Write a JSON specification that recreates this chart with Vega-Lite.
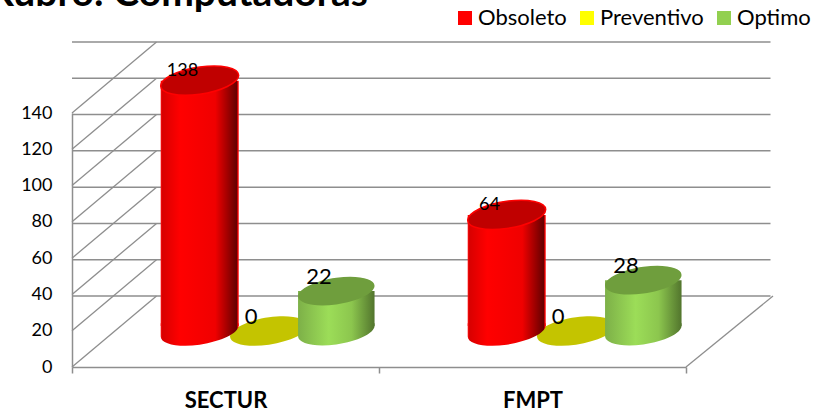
{"$schema":"https://vega.github.io/schema/vega-lite/v6.json","width":614,"height":254,"autosize":{"type":"none"},"padding":{"left":72,"top":113,"right":139,"bottom":44},"background":"white","view":{"stroke":null},"title":{"text":"Rubro:  Computadoras","anchor":"start","frame":"group","baseline":"alphabetic","offset":0,"dx":-83,"dy":38,"font":"Lato","fontSize":39,"fontWeight":"bold","color":"#000000"},"config":{"font":"Lato","axisY":{"labelOverlap":false,"labelBound":false,"labelSeparation":0}},"data":{"values":[{"cat":"SECTUR","series":"Obsoleto","value":138},{"cat":"SECTUR","series":"Preventivo","value":0},{"cat":"SECTUR","series":"Optimo","value":22},{"cat":"FMPT","series":"Obsoleto","value":64},{"cat":"FMPT","series":"Preventivo","value":0},{"cat":"FMPT","series":"Optimo","value":28}]},"layer":[{"data":{"values":[{"tick":0},{"tick":20},{"tick":40},{"tick":60},{"tick":80},{"tick":100},{"tick":120},{"tick":140}]},"layer":[{"mark":{"type":"rule","color":"#8E8E8E","strokeWidth":1.5,"xOffset":84.5,"x2Offset":87,"yOffset":-71},"encoding":{"y":{"field":"tick","type":"quantitative","scale":{"domain":[0,140],"nice":false},"axis":{"values":[0,20,40,60,80,100,120,140],"tickCount":8,"title":null,"grid":false,"domain":true,"domainColor":"#8E8E8E","domainWidth":1.5,"ticks":false,"labelOverlap":false,"labelPadding":20,"labelFont":"Lato","labelFontSize":18,"labelColor":"#000000"}}}},{"mark":{"type":"rule","color":"#8E8E8E","strokeWidth":1.3,"x2Offset":-69,"y2Offset":-71},"encoding":{"x":{"datum":"SECTUR","type":"nominal","bandPosition":0},"x2":{"datum":"SECTUR"},"y":{"field":"tick","type":"quantitative"},"y2":{"field":"tick"}}},{"transform":[{"filter":"datum.tick==0"}],"mark":{"type":"rule","color":"#8E8E8E","strokeWidth":1.3,"xOffset":614,"x2Offset":547.5,"y2Offset":-71},"encoding":{"x":{"datum":"SECTUR","type":"nominal","bandPosition":0},"x2":{"datum":"SECTUR"},"y":{"field":"tick","type":"quantitative"},"y2":{"field":"tick"}}}]},{"encoding":{"x":{"field":"cat","type":"nominal","sort":null,"scale":{"domain":["SECTUR","FMPT"],"paddingInner":0,"paddingOuter":0},"axis":{"title":null,"tickBand":"extent","tickSize":6,"tickColor":"#8E8E8E","tickWidth":1.5,"domainColor":"#8E8E8E","domainWidth":1.5,"labelAngle":0,"labelAlign":"center","labelPadding":27,"labelFont":"Lato","labelFontSize":22,"labelFontWeight":"bold","labelColor":"#000000"}},"y":{"field":"value","type":"quantitative"}},"layer":[{"mark":{"type":"point","opacity":0,"filled":true,"size":1,"shape":"square"},"encoding":{"color":{"field":"series","type":"nominal","scale":{"domain":["Obsoleto","Preventivo","Optimo"],"range":["#FF0000","#FFFF00","#92D050"]},"legend":{"title":null,"orient":"none","legendX":382,"legendY":-106,"direction":"horizontal","columns":3,"symbolType":"square","symbolSize":196,"symbolOpacity":1,"symbolStrokeWidth":0,"labelFont":"Lato","labelFontSize":22,"labelColor":"#000000","labelOffset":2,"columnPadding":9,"padding":0}}}},{"transform":[{"filter":"datum.series=='Preventivo'"}],"mark":{"type":"point","filled":true,"opacity":1,"fill":"#C4C400","size":6084,"xOffset":43.5,"yOffset":-36,"shape":"M1,-0.138C1,0.0553,0.5523,0.2738,0,0.35C-0.5523,0.4262,-1,0.3313,-1,0.138C-1,-0.0553,-0.5523,-0.2738,0,-0.35C0.5523,-0.4262,1,-0.3313,1,-0.138Z"}},{"transform":[{"filter":"datum.series=='Obsoleto'"}],"layer":[{"mark":{"type":"point","filled":true,"opacity":1,"size":6084,"xOffset":-25.8,"yOffset":-36,"shape":"M1,-0.2L1,-0.138C1,0.0553,0.5523,0.2738,0,0.35C-0.5523,0.4262,-1,0.3313,-1,0.138L-1,-0.2Z","fill":{"gradient":"linear","x1":0,"x2":1,"y1":0,"y2":0,"stops":[{"offset":0,"color":"#FF1010"},{"offset":0.02,"color":"#D80000"},{"offset":0.25,"color":"#FF0000"},{"offset":0.7,"color":"#F00000"},{"offset":0.975,"color":"#650000"},{"offset":0.99,"color":"#FF0000"},{"offset":1,"color":"#FF0000"}]}},"encoding":{"y":{"datum":0,"type":"quantitative"}}},{"mark":{"type":"bar","width":78,"xOffset":-25.8,"yOffset":-36,"y2Offset":-41,"fill":{"gradient":"linear","x1":0,"x2":1,"y1":0,"y2":0,"stops":[{"offset":0,"color":"#FF1010"},{"offset":0.02,"color":"#D80000"},{"offset":0.25,"color":"#FF0000"},{"offset":0.7,"color":"#F00000"},{"offset":0.975,"color":"#650000"},{"offset":0.99,"color":"#FF0000"},{"offset":1,"color":"#FF0000"}]}},"encoding":{"y":{"field":"value","type":"quantitative","stack":null},"y2":{"datum":0}}},{"mark":{"type":"point","filled":true,"opacity":1,"fill":"#C00000","stroke":"#FF0000","strokeWidth":1.5,"size":6084,"xOffset":-25.8,"yOffset":-36,"shape":"M1,-0.138C1,0.0553,0.5523,0.2738,0,0.35C-0.5523,0.4262,-1,0.3313,-1,0.138C-1,-0.0553,-0.5523,-0.2738,0,-0.35C0.5523,-0.4262,1,-0.3313,1,-0.138Z"}}]},{"transform":[{"filter":"datum.series=='Optimo'"}],"layer":[{"mark":{"type":"point","filled":true,"opacity":1,"size":5852,"xOffset":110.8,"yOffset":-36,"shape":"M1,-0.2L1,-0.138C1,0.0553,0.5523,0.2738,0,0.35C-0.5523,0.4262,-1,0.3313,-1,0.138L-1,-0.2Z","fill":{"gradient":"linear","x1":0,"x2":1,"y1":0,"y2":0,"stops":[{"offset":0,"color":"#7DB048"},{"offset":0.4,"color":"#9CDD58"},{"offset":0.7,"color":"#8CC64E"},{"offset":1,"color":"#52752D"}]}},"encoding":{"y":{"datum":0,"type":"quantitative"}}},{"mark":{"type":"bar","width":76.5,"xOffset":110.8,"yOffset":-36,"y2Offset":-41,"fill":{"gradient":"linear","x1":0,"x2":1,"y1":0,"y2":0,"stops":[{"offset":0,"color":"#7DB048"},{"offset":0.4,"color":"#9CDD58"},{"offset":0.7,"color":"#8CC64E"},{"offset":1,"color":"#52752D"}]}},"encoding":{"y":{"field":"value","type":"quantitative","stack":null},"y2":{"datum":0}}},{"mark":{"type":"point","filled":true,"opacity":1,"fill":"#6F9E3D","size":5852,"xOffset":110.8,"yOffset":-36,"shape":"M1,-0.138C1,0.0553,0.5523,0.2738,0,0.35C-0.5523,0.4262,-1,0.3313,-1,0.138C-1,-0.0553,-0.5523,-0.2738,0,-0.35C0.5523,-0.4262,1,-0.3313,1,-0.138Z"}}]},{"transform":[{"filter":"datum.series=='Obsoleto'"}],"mark":{"type":"text","font":"Lato","fontSize":18,"color":"#000000","baseline":"middle","xOffset":-43,"yOffset":-46},"encoding":{"text":{"field":"value","type":"quantitative"}}},{"transform":[{"filter":"datum.series=='Preventivo'"}],"mark":{"type":"text","font":"Lato","fontSize":22,"color":"#000000","baseline":"middle","xOffset":25.5,"yOffset":-50},"encoding":{"text":{"field":"value","type":"quantitative"}}},{"transform":[{"filter":"datum.series=='Optimo'"}],"mark":{"type":"text","font":"Lato","fontSize":22,"color":"#000000","baseline":"middle","xOffset":93.5,"yOffset":-50},"encoding":{"text":{"field":"value","type":"quantitative"}}}]}]}
